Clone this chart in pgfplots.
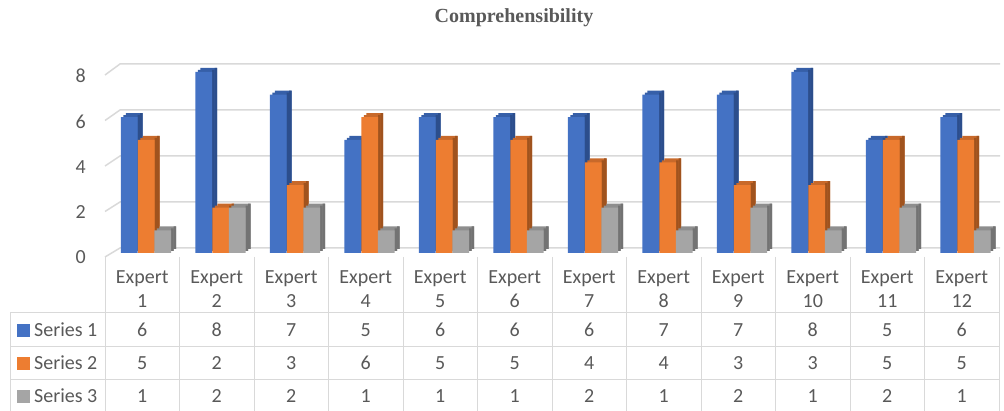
\documentclass[border=0pt]{standalone}
\usepackage{pgfplots}
\pgfplotsset{compat=1.18}
\usepackage{pgfplotstable}
\usepackage{fontspec}
\setmainfont{Carlito}
\newfontfamily\titlefont{Liberation Serif}
\definecolor{txt}{HTML}{595959}
\definecolor{gridc}{HTML}{D9D9D9}
\definecolor{bF}{HTML}{4472C4}\definecolor{bT}{HTML}{365FA8}\definecolor{bS}{HTML}{2C4E8C}
\definecolor{oF}{HTML}{ED7D31}\definecolor{oT}{HTML}{C8692A}\definecolor{oS}{HTML}{A0531E}
\definecolor{gF}{HTML}{A5A5A5}\definecolor{gT}{HTML}{8E8E8E}\definecolor{gS}{HTML}{737373}
\newcommand\tbl{\fontsize{20bp}{24bp}\selectfont}

\pgfplotstableread{
x s1 s2 s3
1 6 5 1
2 8 2 2
3 7 3 2
4 5 6 1
5 6 5 1
6 6 5 1
7 6 4 2
8 7 4 1
9 7 3 2
10 8 3 1
11 5 5 2
12 6 5 1
}\data

% one 3D bar series: #1 column, #2 front shift (bp), #3 front, #4 top, #5 side colour
\newcommand\barseries[5]{%
  \pgfmathsetmacro\sa{#2+5}%
  \pgfmathsetmacro\sb{#2+2.5}%
  \pgfmathsetmacro\sc{#2+8.35+3.75}%
  \pgfmathsetmacro\sd{#2+8.35+1.25}%
  \edef\doplots{%
  \noexpand\addplot[ybar, bar width=16.7bp, bar shift=\sa bp, fill=#4, draw=none, yshift=4bp] table[x=x,y=#1]{\noexpand\data};
  \noexpand\addplot[ybar, bar width=16.7bp, bar shift=\sb bp, fill=#4, draw=none, yshift=2bp] table[x=x,y=#1]{\noexpand\data};
  \noexpand\addplot[ybar, bar width=2.6bp, bar shift=\sc bp, fill=#5, draw=none, yshift=4bp] table[x=x,y=#1]{\noexpand\data};
  \noexpand\addplot[ybar, bar width=2.6bp, bar shift=\sd bp, fill=#5, draw=none, yshift=2bp] table[x=x,y=#1]{\noexpand\data};
  \noexpand\addplot[ybar, bar width=16.7bp, bar shift=#2bp, fill=#3, draw=none] table[x=x,y=#1]{\noexpand\data};
  }%
  \doplots
}

\begin{document}
\begin{tikzpicture}
\path[use as bounding box] (0,0) rectangle (1004bp,411bp);
\begin{scope}[x=1bp,y=-1bp,shift={(0bp,411bp)}]
  % title
  \node[text=txt, font=\titlefont\bfseries\fontsize{20bp}{24bp}\selectfont] at (514,18) {Comprehensibility};
  % back wall gridlines
  \foreach \v in {0,2,4,6,8} {
    \draw[gridc, line width=1.5bp] (105,{257-22.75*\v}) -- (120,{248-23*\v}) -- (1000,{248-23*\v});
  }
  % data table lines
  \draw[gridc, line width=1bp] (10,313) -- (999,313) (10,347) -- (999,347) (10,380) -- (999,380) (10,313) -- (10,411);
  \foreach \k in {0,...,12} {
    \draw[gridc, line width=1bp] ({105+74.5*\k},257) -- ({105+74.5*\k},411);
  }
  % header and values
  \foreach \k in {1,...,12} {
    \pgfmathtruncatemacro\r{\k-1}
    \pgfmathsetmacro\cx{105+74.5*(\k-0.5)}
    \node[anchor=base, inner sep=0pt, text=txt, font=\tbl] at (\cx,283.3) {Expert};
    \node[anchor=base, inner sep=0pt, text=txt, font=\tbl] at (\cx,308) {\k};
    \pgfplotstablegetelem{\r}{s1}\of\data
    \node[anchor=base, inner sep=0pt, text=txt, font=\tbl] at (\cx,336.7) {\pgfplotsretval};
    \pgfplotstablegetelem{\r}{s2}\of\data
    \node[anchor=base, inner sep=0pt, text=txt, font=\tbl] at (\cx,369.5) {\pgfplotsretval};
    \pgfplotstablegetelem{\r}{s3}\of\data
    \node[anchor=base, inner sep=0pt, text=txt, font=\tbl] at (\cx,402.5) {\pgfplotsretval};
  }
  % legend keys
  \fill[bF] (17,324) rectangle (30,337);
  \fill[oF] (17,357) rectangle (30,370);
  \fill[gF] (17,390) rectangle (30,403);
  \node[anchor=base west, inner sep=0pt, text=txt, font=\tbl] at (34,336.7) {Series 1};
  \node[anchor=base west, inner sep=0pt, text=txt, font=\tbl] at (34,369.5) {Series 2};
  \node[anchor=base west, inner sep=0pt, text=txt, font=\tbl] at (34,402.5) {Series 3};
\end{scope}

\begin{axis}[
  at={(105bp,158bp)}, anchor=south west,
  scale only axis, width=894bp, height=181bp,
  xmin=0.5, xmax=12.5, ymin=0, ymax=8,
  clip=false,
  axis line style={draw=none},
  xtick=\empty,
  ytick={0,2,4,6,8},
  major tick length=0pt,
  /pgf/number format/assume math mode=true,
  yticklabel style={anchor=base east, inner sep=0pt, xshift=-19bp, yshift=-11bp,
    text=txt, font=\fontsize{20bp}{24bp}\selectfont},
]
  \barseries{s1}{-13}{bF}{bT}{bS}
  \barseries{s2}{4}{oF}{oT}{oS}
  \barseries{s3}{20.5}{gF}{gT}{gS}
\end{axis}
\end{tikzpicture}
\end{document}
